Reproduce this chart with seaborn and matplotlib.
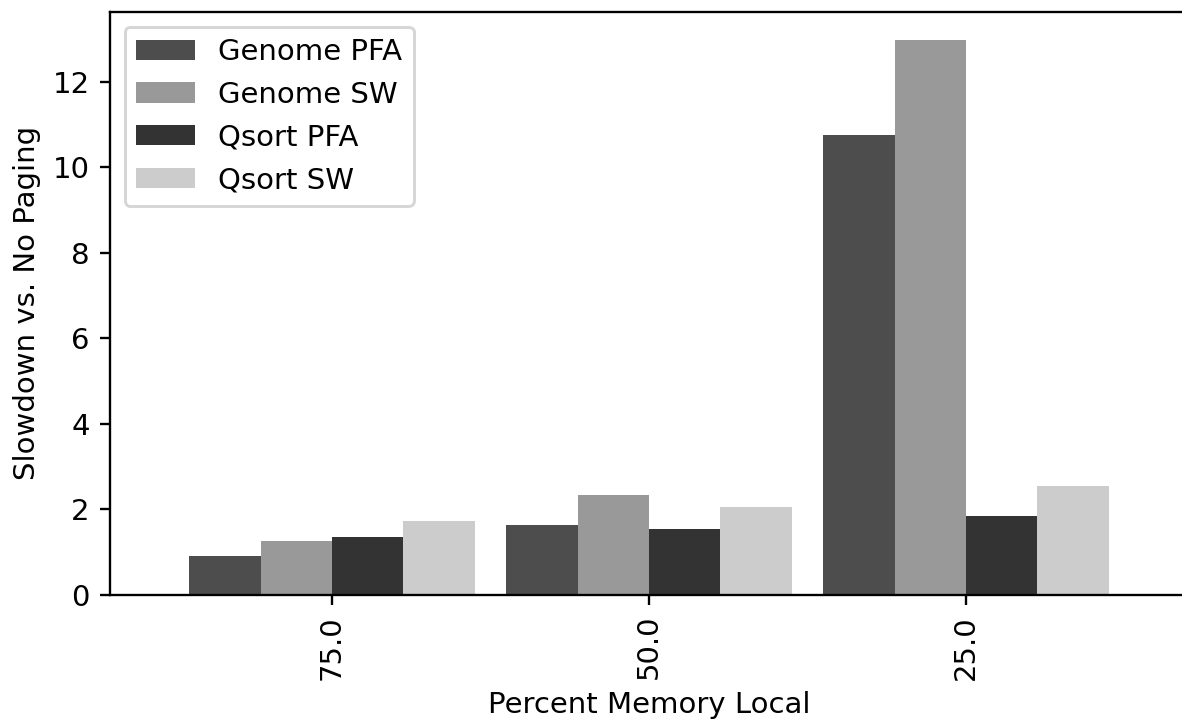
import matplotlib
matplotlib.use("Agg")
import matplotlib.pyplot as plt
import seaborn as sns
import pandas as pd

categories = ["75.0", "50.0", "25.0"]
series_names = ["Genome PFA", "Genome SW", "Qsort PFA", "Qsort SW"]
genome_pfa = [0.91, 1.63, 10.76]
genome_sw = [1.26, 2.33, 12.98]
qsort_pfa = [1.35, 1.54, 1.84]
qsort_sw = [1.73, 2.05, 2.54]
colors = ["#4d4d4d", "#999999", "#333333", "#cccccc"]

rows = []
for name, vals in zip(series_names, [genome_pfa, genome_sw, qsort_pfa, qsort_sw]):
    for c, v in zip(categories, vals):
        rows.append({"cat": c, "series": name, "value": v})
df = pd.DataFrame(rows)

dpi = 210
fig = plt.figure(figsize=(1182 / dpi, 723 / dpi), dpi=dpi)
ax = fig.add_axes([110 / 1182, 1 - 594.5 / 723, (1188 - 110) / 1182, (594.5 - 12) / 723])

sns.barplot(data=df, x="cat", y="value", hue="series", order=categories,
            hue_order=series_names, palette=colors, saturation=1, width=0.9,
            linewidth=0, ax=ax)

ax.set_xlim(-0.7, 2.7)
ax.set_yticks([0, 2, 4, 6, 8, 10, 12])
ax.tick_params(axis="x", labelrotation=90)
ax.set_xlabel("Percent Memory Local")
ax.set_ylabel("Slowdown vs. No Paging")

handles, labels = ax.get_legend_handles_labels()
ax.legend(handles, labels, loc="upper left")

fig.savefig("out.png", dpi=dpi)
